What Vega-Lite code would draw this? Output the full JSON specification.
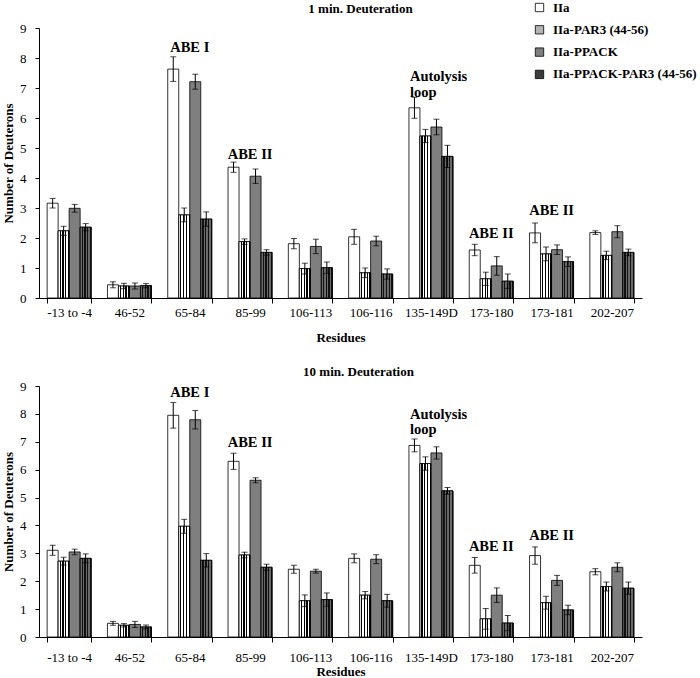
{
"$schema": "https://vega.github.io/schema/vega-lite/v6.json",
"background": "white",
"padding": {"left": 2, "top": 1, "right": 0, "bottom": 0},
"spacing": 22,
"config": {
  "view": {"stroke": null},
  "font": "Liberation Serif",
  "mark": {"font": "Liberation Serif"},
  "text": {"font": "Liberation Serif"},
  "axis": {"grid": false, "domainColor": "black", "tickColor": "black", "labelColor": "black", "titleColor": "black", "labelFont": "Liberation Serif", "titleFont": "Liberation Serif", "labelFontSize": 13, "titleFontSize": 13, "titleFontWeight": "bold"},
  "axisY": {"tickCount": 9, "tickSize": 4, "labelPadding": 9, "titlePadding": 4},
  "legend": {"labelFont": "Liberation Serif", "labelFontWeight": "bold", "labelFontSize": 13, "labelColor": "black"},
  "title": {"font": "Liberation Serif", "fontSize": 13, "fontWeight": "bold", "color": "black", "frame": "group"}
},
"datasets": {
  "bars": [
    {"t":"1 min","r":"-13 to -4","s":"IIa","v":3.16,"lo":3.00,"hi":3.32},
    {"t":"1 min","r":"-13 to -4","s":"IIa-PAR3 (44-56)","v":2.24,"lo":2.09,"hi":2.39},
    {"t":"1 min","r":"-13 to -4","s":"IIa-PPACK","v":2.99,"lo":2.86,"hi":3.12},
    {"t":"1 min","r":"-13 to -4","s":"IIa-PPACK-PAR3 (44-56)","v":2.36,"lo":2.24,"hi":2.48},
    {"t":"1 min","r":"46-52","s":"IIa","v":0.44,"lo":0.34,"hi":0.54},
    {"t":"1 min","r":"46-52","s":"IIa-PAR3 (44-56)","v":0.40,"lo":0.31,"hi":0.49},
    {"t":"1 min","r":"46-52","s":"IIa-PPACK","v":0.40,"lo":0.30,"hi":0.50},
    {"t":"1 min","r":"46-52","s":"IIa-PPACK-PAR3 (44-56)","v":0.41,"lo":0.34,"hi":0.48},
    {"t":"1 min","r":"65-84","s":"IIa","v":7.63,"lo":7.22,"hi":8.04},
    {"t":"1 min","r":"65-84","s":"IIa-PAR3 (44-56)","v":2.77,"lo":2.54,"hi":3.00},
    {"t":"1 min","r":"65-84","s":"IIa-PPACK","v":7.21,"lo":6.96,"hi":7.46},
    {"t":"1 min","r":"65-84","s":"IIa-PPACK-PAR3 (44-56)","v":2.63,"lo":2.39,"hi":2.87},
    {"t":"1 min","r":"85-99","s":"IIa","v":4.36,"lo":4.19,"hi":4.53},
    {"t":"1 min","r":"85-99","s":"IIa-PAR3 (44-56)","v":1.88,"lo":1.79,"hi":1.97},
    {"t":"1 min","r":"85-99","s":"IIa-PPACK","v":4.06,"lo":3.82,"hi":4.30},
    {"t":"1 min","r":"85-99","s":"IIa-PPACK-PAR3 (44-56)","v":1.52,"lo":1.43,"hi":1.61},
    {"t":"1 min","r":"106-113","s":"IIa","v":1.81,"lo":1.64,"hi":1.98},
    {"t":"1 min","r":"106-113","s":"IIa-PAR3 (44-56)","v":0.98,"lo":0.80,"hi":1.16},
    {"t":"1 min","r":"106-113","s":"IIa-PPACK","v":1.72,"lo":1.48,"hi":1.96},
    {"t":"1 min","r":"106-113","s":"IIa-PPACK-PAR3 (44-56)","v":1.01,"lo":0.82,"hi":1.20},
    {"t":"1 min","r":"106-116","s":"IIa","v":2.04,"lo":1.79,"hi":2.29},
    {"t":"1 min","r":"106-116","s":"IIa-PAR3 (44-56)","v":0.84,"lo":0.68,"hi":1.00},
    {"t":"1 min","r":"106-116","s":"IIa-PPACK","v":1.90,"lo":1.74,"hi":2.06},
    {"t":"1 min","r":"106-116","s":"IIa-PPACK-PAR3 (44-56)","v":0.80,"lo":0.63,"hi":0.97},
    {"t":"1 min","r":"135-149D","s":"IIa","v":6.34,"lo":5.99,"hi":6.69},
    {"t":"1 min","r":"135-149D","s":"IIa-PAR3 (44-56)","v":5.40,"lo":5.18,"hi":5.62},
    {"t":"1 min","r":"135-149D","s":"IIa-PPACK","v":5.70,"lo":5.44,"hi":5.96},
    {"t":"1 min","r":"135-149D","s":"IIa-PPACK-PAR3 (44-56)","v":4.72,"lo":4.35,"hi":5.09},
    {"t":"1 min","r":"173-180","s":"IIa","v":1.60,"lo":1.41,"hi":1.79},
    {"t":"1 min","r":"173-180","s":"IIa-PAR3 (44-56)","v":0.64,"lo":0.42,"hi":0.86},
    {"t":"1 min","r":"173-180","s":"IIa-PPACK","v":1.07,"lo":0.76,"hi":1.38},
    {"t":"1 min","r":"173-180","s":"IIa-PPACK-PAR3 (44-56)","v":0.56,"lo":0.32,"hi":0.80},
    {"t":"1 min","r":"173-181","s":"IIa","v":2.17,"lo":1.84,"hi":2.50},
    {"t":"1 min","r":"173-181","s":"IIa-PAR3 (44-56)","v":1.47,"lo":1.24,"hi":1.70},
    {"t":"1 min","r":"173-181","s":"IIa-PPACK","v":1.61,"lo":1.45,"hi":1.77},
    {"t":"1 min","r":"173-181","s":"IIa-PPACK-PAR3 (44-56)","v":1.21,"lo":1.05,"hi":1.37},
    {"t":"1 min","r":"202-207","s":"IIa","v":2.18,"lo":2.12,"hi":2.24},
    {"t":"1 min","r":"202-207","s":"IIa-PAR3 (44-56)","v":1.42,"lo":1.28,"hi":1.56},
    {"t":"1 min","r":"202-207","s":"IIa-PPACK","v":2.21,"lo":2.01,"hi":2.41},
    {"t":"1 min","r":"202-207","s":"IIa-PPACK-PAR3 (44-56)","v":1.52,"lo":1.41,"hi":1.63},
    {"t":"10 min","r":"-13 to -4","s":"IIa","v":3.11,"lo":2.93,"hi":3.29},
    {"t":"10 min","r":"-13 to -4","s":"IIa-PAR3 (44-56)","v":2.72,"lo":2.58,"hi":2.86},
    {"t":"10 min","r":"-13 to -4","s":"IIa-PPACK","v":3.05,"lo":2.95,"hi":3.15},
    {"t":"10 min","r":"-13 to -4","s":"IIa-PPACK-PAR3 (44-56)","v":2.82,"lo":2.66,"hi":2.98},
    {"t":"10 min","r":"46-52","s":"IIa","v":0.49,"lo":0.42,"hi":0.56},
    {"t":"10 min","r":"46-52","s":"IIa-PAR3 (44-56)","v":0.42,"lo":0.36,"hi":0.48},
    {"t":"10 min","r":"46-52","s":"IIa-PPACK","v":0.45,"lo":0.34,"hi":0.56},
    {"t":"10 min","r":"46-52","s":"IIa-PPACK-PAR3 (44-56)","v":0.36,"lo":0.29,"hi":0.43},
    {"t":"10 min","r":"65-84","s":"IIa","v":7.95,"lo":7.49,"hi":8.41},
    {"t":"10 min","r":"65-84","s":"IIa-PAR3 (44-56)","v":3.97,"lo":3.72,"hi":4.22},
    {"t":"10 min","r":"65-84","s":"IIa-PPACK","v":7.79,"lo":7.46,"hi":8.12},
    {"t":"10 min","r":"65-84","s":"IIa-PPACK-PAR3 (44-56)","v":2.75,"lo":2.51,"hi":2.99},
    {"t":"10 min","r":"85-99","s":"IIa","v":6.30,"lo":6.01,"hi":6.59},
    {"t":"10 min","r":"85-99","s":"IIa-PAR3 (44-56)","v":2.94,"lo":2.84,"hi":3.04},
    {"t":"10 min","r":"85-99","s":"IIa-PPACK","v":5.62,"lo":5.53,"hi":5.71},
    {"t":"10 min","r":"85-99","s":"IIa-PPACK-PAR3 (44-56)","v":2.50,"lo":2.39,"hi":2.61},
    {"t":"10 min","r":"106-113","s":"IIa","v":2.43,"lo":2.29,"hi":2.57},
    {"t":"10 min","r":"106-113","s":"IIa-PAR3 (44-56)","v":1.30,"lo":1.09,"hi":1.51},
    {"t":"10 min","r":"106-113","s":"IIa-PPACK","v":2.36,"lo":2.29,"hi":2.43},
    {"t":"10 min","r":"106-113","s":"IIa-PPACK-PAR3 (44-56)","v":1.34,"lo":1.10,"hi":1.58},
    {"t":"10 min","r":"106-116","s":"IIa","v":2.82,"lo":2.66,"hi":2.98},
    {"t":"10 min","r":"106-116","s":"IIa-PAR3 (44-56)","v":1.50,"lo":1.37,"hi":1.63},
    {"t":"10 min","r":"106-116","s":"IIa-PPACK","v":2.79,"lo":2.63,"hi":2.95},
    {"t":"10 min","r":"106-116","s":"IIa-PPACK-PAR3 (44-56)","v":1.30,"lo":1.07,"hi":1.53},
    {"t":"10 min","r":"135-149D","s":"IIa","v":6.87,"lo":6.64,"hi":7.10},
    {"t":"10 min","r":"135-149D","s":"IIa-PAR3 (44-56)","v":6.22,"lo":5.98,"hi":6.46},
    {"t":"10 min","r":"135-149D","s":"IIa-PPACK","v":6.60,"lo":6.38,"hi":6.82},
    {"t":"10 min","r":"135-149D","s":"IIa-PPACK-PAR3 (44-56)","v":5.24,"lo":5.12,"hi":5.36},
    {"t":"10 min","r":"173-180","s":"IIa","v":2.57,"lo":2.29,"hi":2.85},
    {"t":"10 min","r":"173-180","s":"IIa-PAR3 (44-56)","v":0.65,"lo":0.28,"hi":1.02},
    {"t":"10 min","r":"173-180","s":"IIa-PPACK","v":1.50,"lo":1.24,"hi":1.76},
    {"t":"10 min","r":"173-180","s":"IIa-PPACK-PAR3 (44-56)","v":0.50,"lo":0.23,"hi":0.77},
    {"t":"10 min","r":"173-181","s":"IIa","v":2.92,"lo":2.61,"hi":3.23},
    {"t":"10 min","r":"173-181","s":"IIa-PAR3 (44-56)","v":1.23,"lo":1.00,"hi":1.46},
    {"t":"10 min","r":"173-181","s":"IIa-PPACK","v":2.03,"lo":1.85,"hi":2.21},
    {"t":"10 min","r":"173-181","s":"IIa-PPACK-PAR3 (44-56)","v":0.97,"lo":0.80,"hi":1.14},
    {"t":"10 min","r":"202-207","s":"IIa","v":2.34,"lo":2.23,"hi":2.45},
    {"t":"10 min","r":"202-207","s":"IIa-PAR3 (44-56)","v":1.81,"lo":1.65,"hi":1.97},
    {"t":"10 min","r":"202-207","s":"IIa-PPACK","v":2.50,"lo":2.34,"hi":2.66},
    {"t":"10 min","r":"202-207","s":"IIa-PPACK-PAR3 (44-56)","v":1.75,"lo":1.53,"hi":1.97}
  ],
  "notes": [
    {"t":"1 min","r":"65-84","label":"ABE I","ly":8.35},
    {"t":"1 min","r":"85-99","label":"ABE II","ly":4.78},
    {"t":"1 min","r":"173-180","label":"ABE II","ly":2.15},
    {"t":"1 min","r":"173-181","label":"ABE II","ly":2.91},
    {"t":"1 min","r":"135-149D","label":"Autolysis\n loop","ly":7.38},
    {"t":"10 min","r":"65-84","label":"ABE I","ly":8.76},
    {"t":"10 min","r":"85-99","label":"ABE II","ly":6.94},
    {"t":"10 min","r":"173-180","label":"ABE II","ly":3.23},
    {"t":"10 min","r":"173-181","label":"ABE II","ly":3.62},
    {"t":"10 min","r":"135-149D","label":"Autolysis\n loop","ly":7.96}
  ]
},
"vconcat": [
  {
    "width": 603, "height": 270,
    "title": {"text": "1 min. Deuteration", "dx": 20, "offset": 6},
    "layer": [
      {
        "data": {"name": "bars"},
        "transform": [{"filter": "datum.t === '1 min'"}],
        "mark": {"type": "bar", "strokeWidth": 0.8},
        "encoding": {
          "x": {"field": "r", "type": "nominal", "sort": ["-13 to -4","46-52","65-84","85-99","106-113","106-116","135-149D","173-180","173-181","202-207"], "scale": {"paddingInner": 0.27, "paddingOuter": 0.135}, "title": "Residues", "axis": {"labelAngle": 0, "tickBand": "extent", "tickSize": 5, "labelPadding": 3, "titlePadding": 12}},
          "xOffset": {"field": "s", "type": "nominal", "sort": ["IIa","IIa-PAR3 (44-56)","IIa-PPACK","IIa-PPACK-PAR3 (44-56)"], "scale": {"paddingInner": 0, "paddingOuter": 0}},
          "y": {"field": "v", "type": "quantitative", "scale": {"domain": [0, 9], "nice": false}, "title": "Number of Deuterons"},
          "fill": {"field": "s", "type": "nominal",
            "scale": {"domain": ["IIa","IIa-PAR3 (44-56)","IIa-PPACK","IIa-PPACK-PAR3 (44-56)"], "range": ["white", "#b4b4b4", "#7f7f7f", "#3c3c3c"]},
            "legend": {"title": null, "orient": "none", "legendX": 494, "legendY": -27, "padding": 0, "symbolType": "square", "symbolSize": 70, "symbolStrokeWidth": 0.8, "rowPadding": 8.3, "labelOffset": 7}},
          "stroke": {"field": "s", "type": "nominal",
            "scale": {"domain": ["IIa","IIa-PAR3 (44-56)","IIa-PPACK","IIa-PPACK-PAR3 (44-56)"], "range": ["black", "black", "black", "black"]},
            "legend": {"title": null, "orient": "none", "legendX": 494, "legendY": -27, "padding": 0, "symbolType": "square", "symbolSize": 70, "symbolStrokeWidth": 0.8, "rowPadding": 8.3, "labelOffset": 7}}
        }
      },
      {
        "data": {"name": "bars"},
        "transform": [{"filter": "datum.t === '1 min' && datum.s === 'IIa-PAR3 (44-56)'"}],
        "mark": {"type": "bar", "stroke": "black", "strokeWidth": 0.8,
          "fill": {"gradient": "linear", "x1": 0, "y1": 0, "x2": 1, "y2": 0, "stops": [
            {"offset": 0, "color": "white"}, {"offset": 0.14, "color": "white"}, {"offset": 0.14, "color": "black"}, {"offset": 0.25, "color": "black"},
            {"offset": 0.25, "color": "white"}, {"offset": 0.39, "color": "white"}, {"offset": 0.39, "color": "black"}, {"offset": 0.5, "color": "black"},
            {"offset": 0.5, "color": "white"}, {"offset": 0.64, "color": "white"}, {"offset": 0.64, "color": "black"}, {"offset": 0.75, "color": "black"},
            {"offset": 0.75, "color": "white"}, {"offset": 0.89, "color": "white"}, {"offset": 0.89, "color": "black"}, {"offset": 1, "color": "black"}]}},
        "encoding": {
          "x": {"field": "r", "type": "nominal", "sort": ["-13 to -4","46-52","65-84","85-99","106-113","106-116","135-149D","173-180","173-181","202-207"]},
          "xOffset": {"field": "s", "type": "nominal", "sort": ["IIa","IIa-PAR3 (44-56)","IIa-PPACK","IIa-PPACK-PAR3 (44-56)"]},
          "y": {"field": "v", "type": "quantitative"}
        }
      },
      {
        "data": {"name": "bars"},
        "transform": [{"filter": "datum.t === '1 min' && datum.s === 'IIa-PPACK-PAR3 (44-56)'"}],
        "mark": {"type": "bar", "stroke": "black", "strokeWidth": 0.8,
          "fill": {"gradient": "linear", "x1": 0, "y1": 0, "x2": 1, "y2": 0, "stops": [
            {"offset": 0, "color": "#6a6a6a"}, {"offset": 0.14, "color": "#6a6a6a"}, {"offset": 0.14, "color": "#111111"}, {"offset": 0.25, "color": "#111111"},
            {"offset": 0.25, "color": "#6a6a6a"}, {"offset": 0.39, "color": "#6a6a6a"}, {"offset": 0.39, "color": "#111111"}, {"offset": 0.5, "color": "#111111"},
            {"offset": 0.5, "color": "#6a6a6a"}, {"offset": 0.64, "color": "#6a6a6a"}, {"offset": 0.64, "color": "#111111"}, {"offset": 0.75, "color": "#111111"},
            {"offset": 0.75, "color": "#6a6a6a"}, {"offset": 0.89, "color": "#6a6a6a"}, {"offset": 0.89, "color": "#111111"}, {"offset": 1, "color": "#111111"}]}},
        "encoding": {
          "x": {"field": "r", "type": "nominal", "sort": ["-13 to -4","46-52","65-84","85-99","106-113","106-116","135-149D","173-180","173-181","202-207"]},
          "xOffset": {"field": "s", "type": "nominal", "sort": ["IIa","IIa-PAR3 (44-56)","IIa-PPACK","IIa-PPACK-PAR3 (44-56)"]},
          "y": {"field": "v", "type": "quantitative"}
        }
      },
      {
        "data": {"name": "bars"},
        "transform": [{"filter": "datum.t === '1 min'"}],
        "mark": {"type": "rule", "color": "black", "strokeWidth": 1},
        "encoding": {
          "x": {"field": "r", "type": "nominal", "sort": ["-13 to -4","46-52","65-84","85-99","106-113","106-116","135-149D","173-180","173-181","202-207"]},
          "xOffset": {"field": "s", "type": "nominal", "sort": ["IIa","IIa-PAR3 (44-56)","IIa-PPACK","IIa-PPACK-PAR3 (44-56)"]},
          "y": {"field": "lo", "type": "quantitative"},
          "y2": {"field": "hi"}
        }
      },
      {
        "data": {"name": "bars"},
        "transform": [{"filter": "datum.t === '1 min'"}],
        "mark": {"type": "tick", "color": "black", "size": 6, "thickness": 1, "orient": "horizontal"},
        "encoding": {
          "x": {"field": "r", "type": "nominal", "sort": ["-13 to -4","46-52","65-84","85-99","106-113","106-116","135-149D","173-180","173-181","202-207"]},
          "xOffset": {"field": "s", "type": "nominal", "sort": ["IIa","IIa-PAR3 (44-56)","IIa-PPACK","IIa-PPACK-PAR3 (44-56)"]},
          "y": {"field": "hi", "type": "quantitative"}
        }
      },
      {
        "data": {"name": "bars"},
        "transform": [{"filter": "datum.t === '1 min'"}],
        "mark": {"type": "tick", "color": "black", "size": 6, "thickness": 1, "orient": "horizontal"},
        "encoding": {
          "x": {"field": "r", "type": "nominal", "sort": ["-13 to -4","46-52","65-84","85-99","106-113","106-116","135-149D","173-180","173-181","202-207"]},
          "xOffset": {"field": "s", "type": "nominal", "sort": ["IIa","IIa-PAR3 (44-56)","IIa-PPACK","IIa-PPACK-PAR3 (44-56)"]},
          "y": {"field": "lo", "type": "quantitative"}
        }
      },
      {
        "data": {"name": "notes"},
        "transform": [{"filter": "datum.t === '1 min' && datum.r !== '135-149D'"}],
        "mark": {"type": "text", "font": "Liberation Serif", "fontWeight": "bold", "fontSize": 14.5, "color": "black", "align": "center", "baseline": "middle"},
        "encoding": {
          "x": {"field": "r", "type": "nominal", "sort": ["-13 to -4","46-52","65-84","85-99","106-113","106-116","135-149D","173-180","173-181","202-207"]},
          "y": {"field": "ly", "type": "quantitative"},
          "text": {"field": "label"}
        }
      },
      {
        "data": {"name": "notes"},
        "transform": [{"filter": "datum.t === '1 min' && datum.r === '135-149D'"}],
        "mark": {"type": "text", "font": "Liberation Serif", "fontWeight": "bold", "fontSize": 14.5, "color": "black", "align": "left", "baseline": "middle", "dx": -21, "lineBreak": "\n", "lineHeight": 16.5},
        "encoding": {
          "x": {"field": "r", "type": "nominal", "sort": ["-13 to -4","46-52","65-84","85-99","106-113","106-116","135-149D","173-180","173-181","202-207"]},
          "y": {"field": "ly", "type": "quantitative"},
          "text": {"field": "label"}
        }
      }
    ]
  },
  {
    "width": 603, "height": 251,
    "title": {"text": "10 min. Deuteration", "dx": 18, "offset": 1},
    "layer": [
      {
        "data": {"name": "bars"},
        "transform": [{"filter": "datum.t === '10 min'"}],
        "mark": {"type": "bar", "strokeWidth": 0.8},
        "encoding": {
          "x": {"field": "r", "type": "nominal", "sort": ["-13 to -4","46-52","65-84","85-99","106-113","106-116","135-149D","173-180","173-181","202-207"], "scale": {"paddingInner": 0.27, "paddingOuter": 0.135}, "title": "Residues", "axis": {"labelAngle": 0, "tickBand": "extent", "tickSize": 5, "labelPadding": 9, "titlePadding": 1}},
          "xOffset": {"field": "s", "type": "nominal", "sort": ["IIa","IIa-PAR3 (44-56)","IIa-PPACK","IIa-PPACK-PAR3 (44-56)"], "scale": {"paddingInner": 0, "paddingOuter": 0}},
          "y": {"field": "v", "type": "quantitative", "scale": {"domain": [0, 9], "nice": false}, "title": "Number of Deuterons"},
          "fill": {"field": "s", "type": "nominal"},
          "stroke": {"field": "s", "type": "nominal"}
        }
      },
      {
        "data": {"name": "bars"},
        "transform": [{"filter": "datum.t === '10 min' && datum.s === 'IIa-PAR3 (44-56)'"}],
        "mark": {"type": "bar", "stroke": "black", "strokeWidth": 0.8,
          "fill": {"gradient": "linear", "x1": 0, "y1": 0, "x2": 1, "y2": 0, "stops": [
            {"offset": 0, "color": "white"}, {"offset": 0.14, "color": "white"}, {"offset": 0.14, "color": "black"}, {"offset": 0.25, "color": "black"},
            {"offset": 0.25, "color": "white"}, {"offset": 0.39, "color": "white"}, {"offset": 0.39, "color": "black"}, {"offset": 0.5, "color": "black"},
            {"offset": 0.5, "color": "white"}, {"offset": 0.64, "color": "white"}, {"offset": 0.64, "color": "black"}, {"offset": 0.75, "color": "black"},
            {"offset": 0.75, "color": "white"}, {"offset": 0.89, "color": "white"}, {"offset": 0.89, "color": "black"}, {"offset": 1, "color": "black"}]}},
        "encoding": {
          "x": {"field": "r", "type": "nominal", "sort": ["-13 to -4","46-52","65-84","85-99","106-113","106-116","135-149D","173-180","173-181","202-207"]},
          "xOffset": {"field": "s", "type": "nominal", "sort": ["IIa","IIa-PAR3 (44-56)","IIa-PPACK","IIa-PPACK-PAR3 (44-56)"]},
          "y": {"field": "v", "type": "quantitative"}
        }
      },
      {
        "data": {"name": "bars"},
        "transform": [{"filter": "datum.t === '10 min' && datum.s === 'IIa-PPACK-PAR3 (44-56)'"}],
        "mark": {"type": "bar", "stroke": "black", "strokeWidth": 0.8,
          "fill": {"gradient": "linear", "x1": 0, "y1": 0, "x2": 1, "y2": 0, "stops": [
            {"offset": 0, "color": "#6a6a6a"}, {"offset": 0.14, "color": "#6a6a6a"}, {"offset": 0.14, "color": "#111111"}, {"offset": 0.25, "color": "#111111"},
            {"offset": 0.25, "color": "#6a6a6a"}, {"offset": 0.39, "color": "#6a6a6a"}, {"offset": 0.39, "color": "#111111"}, {"offset": 0.5, "color": "#111111"},
            {"offset": 0.5, "color": "#6a6a6a"}, {"offset": 0.64, "color": "#6a6a6a"}, {"offset": 0.64, "color": "#111111"}, {"offset": 0.75, "color": "#111111"},
            {"offset": 0.75, "color": "#6a6a6a"}, {"offset": 0.89, "color": "#6a6a6a"}, {"offset": 0.89, "color": "#111111"}, {"offset": 1, "color": "#111111"}]}},
        "encoding": {
          "x": {"field": "r", "type": "nominal", "sort": ["-13 to -4","46-52","65-84","85-99","106-113","106-116","135-149D","173-180","173-181","202-207"]},
          "xOffset": {"field": "s", "type": "nominal", "sort": ["IIa","IIa-PAR3 (44-56)","IIa-PPACK","IIa-PPACK-PAR3 (44-56)"]},
          "y": {"field": "v", "type": "quantitative"}
        }
      },
      {
        "data": {"name": "bars"},
        "transform": [{"filter": "datum.t === '10 min'"}],
        "mark": {"type": "rule", "color": "black", "strokeWidth": 1},
        "encoding": {
          "x": {"field": "r", "type": "nominal", "sort": ["-13 to -4","46-52","65-84","85-99","106-113","106-116","135-149D","173-180","173-181","202-207"]},
          "xOffset": {"field": "s", "type": "nominal", "sort": ["IIa","IIa-PAR3 (44-56)","IIa-PPACK","IIa-PPACK-PAR3 (44-56)"]},
          "y": {"field": "lo", "type": "quantitative"},
          "y2": {"field": "hi"}
        }
      },
      {
        "data": {"name": "bars"},
        "transform": [{"filter": "datum.t === '10 min'"}],
        "mark": {"type": "tick", "color": "black", "size": 6, "thickness": 1, "orient": "horizontal"},
        "encoding": {
          "x": {"field": "r", "type": "nominal", "sort": ["-13 to -4","46-52","65-84","85-99","106-113","106-116","135-149D","173-180","173-181","202-207"]},
          "xOffset": {"field": "s", "type": "nominal", "sort": ["IIa","IIa-PAR3 (44-56)","IIa-PPACK","IIa-PPACK-PAR3 (44-56)"]},
          "y": {"field": "hi", "type": "quantitative"}
        }
      },
      {
        "data": {"name": "bars"},
        "transform": [{"filter": "datum.t === '10 min'"}],
        "mark": {"type": "tick", "color": "black", "size": 6, "thickness": 1, "orient": "horizontal"},
        "encoding": {
          "x": {"field": "r", "type": "nominal", "sort": ["-13 to -4","46-52","65-84","85-99","106-113","106-116","135-149D","173-180","173-181","202-207"]},
          "xOffset": {"field": "s", "type": "nominal", "sort": ["IIa","IIa-PAR3 (44-56)","IIa-PPACK","IIa-PPACK-PAR3 (44-56)"]},
          "y": {"field": "lo", "type": "quantitative"}
        }
      },
      {
        "data": {"name": "notes"},
        "transform": [{"filter": "datum.t === '10 min' && datum.r !== '135-149D'"}],
        "mark": {"type": "text", "font": "Liberation Serif", "fontWeight": "bold", "fontSize": 14.5, "color": "black", "align": "center", "baseline": "middle"},
        "encoding": {
          "x": {"field": "r", "type": "nominal", "sort": ["-13 to -4","46-52","65-84","85-99","106-113","106-116","135-149D","173-180","173-181","202-207"]},
          "y": {"field": "ly", "type": "quantitative"},
          "text": {"field": "label"}
        }
      },
      {
        "data": {"name": "notes"},
        "transform": [{"filter": "datum.t === '10 min' && datum.r === '135-149D'"}],
        "mark": {"type": "text", "font": "Liberation Serif", "fontWeight": "bold", "fontSize": 14.5, "color": "black", "align": "left", "baseline": "middle", "dx": -21, "lineBreak": "\n", "lineHeight": 15},
        "encoding": {
          "x": {"field": "r", "type": "nominal", "sort": ["-13 to -4","46-52","65-84","85-99","106-113","106-116","135-149D","173-180","173-181","202-207"]},
          "y": {"field": "ly", "type": "quantitative"},
          "text": {"field": "label"}
        }
      }
    ]
  }
]
}
